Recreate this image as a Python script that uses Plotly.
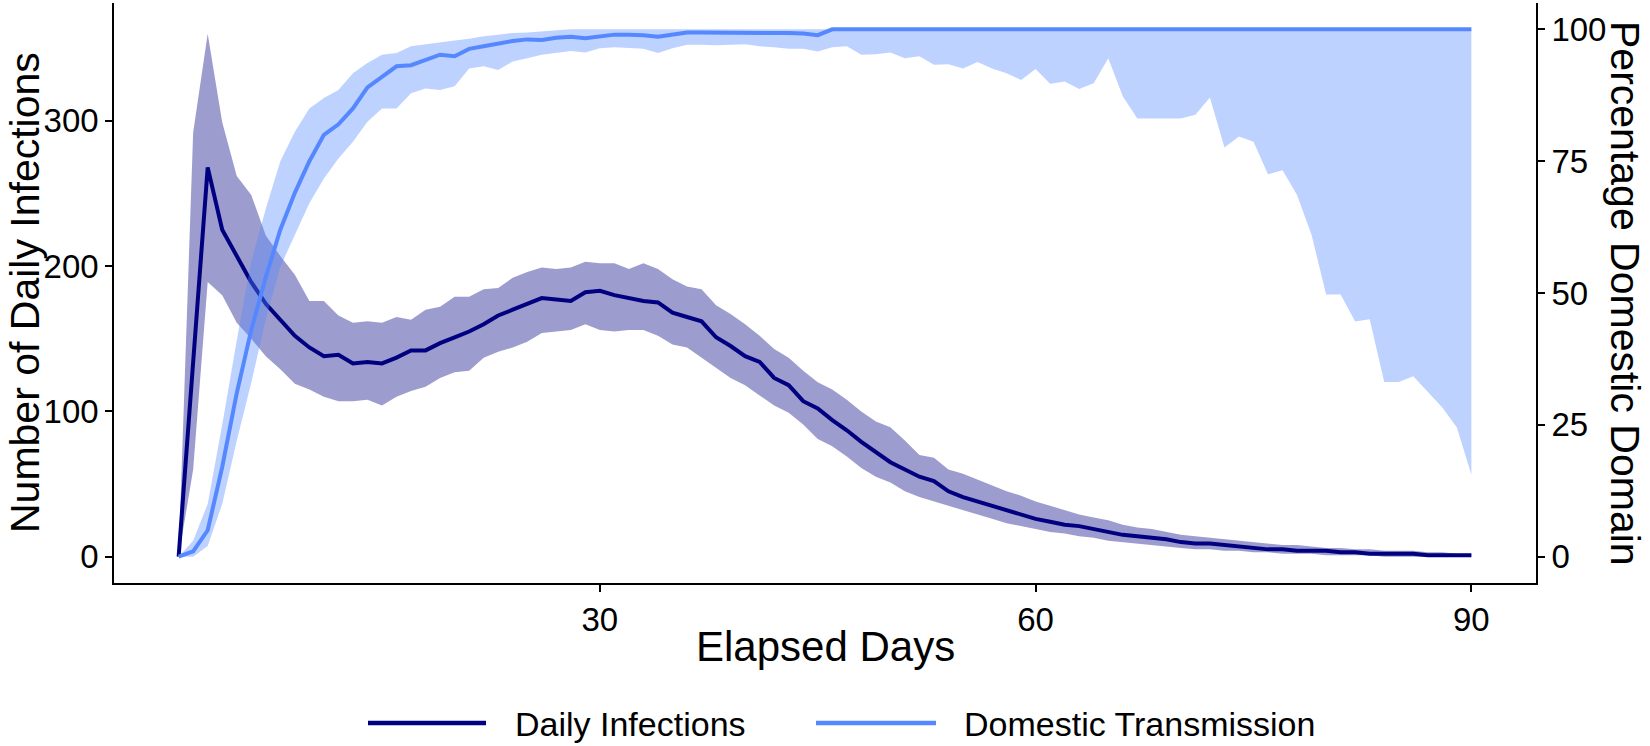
import plotly.graph_objects as go

days = list(range(1, 91))

inf_mean = [0, 130, 268, 225, 207, 189, 174, 163, 152, 144,
            138, 139, 133, 134, 133, 137, 142, 142, 147, 151,
            155, 160, 166, 170, 174, 178, 177, 176, 182, 183,
            180, 178, 176, 175, 168, 165, 162, 151, 145, 138,
            134, 123, 118, 107, 102, 94, 87, 79, 72, 65,
            60, 55, 52, 45, 41, 38, 35, 32, 29, 26,
            24, 22, 21, 19, 17, 15, 14, 13, 12, 10,
            9, 9, 8, 7, 6, 5, 5, 4, 4, 4,
            3, 3, 2, 2, 2, 2, 1, 1, 1, 1]
inf_upper = [0, 292, 360, 299, 262, 249, 221, 207, 194, 176,
             176, 166, 161, 162, 161, 165, 163, 170, 172, 179,
             179, 184, 185, 192, 196, 199, 198, 199, 203, 202,
             202, 198, 202, 198, 191, 186, 184, 173, 167, 160,
             152, 143, 137, 128, 120, 115, 108, 100, 93, 89,
             80, 70, 68, 60, 57, 53, 49, 45, 42, 38,
             35, 32, 29, 27, 25, 22, 20, 19, 17, 15,
             14, 13, 12, 11, 10, 9, 8, 8, 7, 6,
             6, 5, 5, 4, 4, 4, 3, 3, 2, 2]
inf_lower = [0, 60, 189, 180, 161, 150, 138, 129, 119, 115,
             110, 107, 107, 108, 104, 110, 114, 117, 123, 127,
             128, 137, 141, 144, 148, 154, 155, 156, 160, 156,
             155, 156, 156, 152, 146, 144, 137, 130, 123, 118,
             111, 104, 99, 91, 81, 76, 69, 61, 55, 51,
             45, 41, 38, 35, 32, 29, 26, 23, 21, 19,
             17, 16, 14, 13, 11, 10, 9, 8, 7, 6,
             5, 5, 4, 4, 3, 3, 2, 2, 2, 1,
             1, 1, 1, 0, 0, 0, 0, 0, 0, 0]

dom_mean = [0, 1, 5, 17, 31, 43, 53, 62, 69, 75,
            80, 82, 85, 89, 91, 93, 93.2, 94.2, 95.2, 94.9,
            96.3, 96.8, 97.3, 97.8, 98.1, 98.0, 98.4, 98.6, 98.3, 98.7,
            99.0, 99.0, 98.9, 98.6, 99.0, 99.4, 99.4, 99.4, 99.4, 99.4,
            99.4, 99.4, 99.3, 99.2, 98.9, 100, 100, 100, 100, 100,
            100, 100, 100, 100, 100, 100, 100, 100, 100, 100,
            100, 100, 100, 100, 100, 100, 100, 100, 100, 100,
            100, 100, 100, 100, 100, 100, 100, 100, 100, 100,
            100, 100, 100, 100, 100, 100, 100, 100, 100, 100]
dom_upper = [0, 3, 10, 25, 41, 56, 66, 75, 80.6, 85,
             87, 88.5, 91.7, 93.6, 95.2, 95.5, 96.8, 97.2, 97.6, 97.9,
             98.2, 98.7, 99.0, 99.3, 99.4, 99.6, 99.8, 100, 100, 100,
             100, 100, 100, 100, 100, 100, 100, 100, 100, 100,
             100, 100, 100, 100, 100, 100, 100, 100, 100, 100,
             100, 100, 100, 100, 100, 100, 100, 100, 100, 100,
             100, 100, 100, 100, 100, 100, 100, 100, 100, 100,
             100, 100, 100, 100, 100, 100, 100, 100, 100, 100,
             100, 100, 100, 100, 100, 100, 100, 100, 100, 100]
dom_lower = [0, 0, 2, 10, 22, 33, 45, 55, 61, 67,
             71.7, 75.5, 78.7, 82.5, 85, 85, 87.9, 88.8, 88.5, 89.2,
             92.6, 93, 92.3, 93.9, 94.5, 95.2, 95.6, 95.9, 95.6, 96.4,
             96.6, 96.4, 96.3, 95.5, 96.4, 97.1, 97.1, 97.0, 97.1, 97.2,
             96.8, 96.6, 96.3, 96.3, 95.8, 96.6, 96.8, 95.2, 95.3, 95.6,
             94.5, 94.9, 93.3, 93.4, 92.6, 93.8, 92.6, 91.7, 90.4, 92.5,
             89.7, 90.1, 88.7, 89.8, 94.5, 87.3, 83.1, 83.1, 83.1, 83.1,
             83.8, 87.1, 77.6, 79.7, 78.7, 72.5, 73.3, 68.6, 61, 49.7,
             49.7, 44.6, 45, 33.1, 33.1, 34.2, 31.2, 28.3, 24.5, 15.6]

x_ticks = [30, 60, 90]
y_left_ticks = [0, 100, 200, 300]
y_right_ticks = [0, 25, 50, 75, 100]
series_names = ["Daily Infections", "Domestic Transmission"]

NAVY = "#000080"
BLUE = "#5588FF"
FONT = "Liberation Sans, Arial, sans-serif"
M = 363.0

fig = go.Figure()

fig.add_trace(go.Scatter(
    x=days + days[::-1], y=inf_upper + inf_lower[::-1],
    fill="toself", fillcolor="rgba(0,0,128,0.39)", line=dict(width=0),
    mode="lines", hoverinfo="skip", showlegend=False))
fig.add_trace(go.Scatter(
    x=days + days[::-1], y=dom_upper + dom_lower[::-1], yaxis="y2",
    fill="toself", fillcolor="rgba(85,136,255,0.38)", line=dict(width=0),
    mode="lines", hoverinfo="skip", showlegend=False))
fig.add_trace(go.Scatter(
    x=days, y=inf_mean, mode="lines", name=series_names[0],
    line=dict(color=NAVY, width=4), showlegend=False))
fig.add_trace(go.Scatter(
    x=days, y=dom_mean, mode="lines", name=series_names[1], yaxis="y2",
    line=dict(color=BLUE, width=4), showlegend=False))

axis_common = dict(showline=True, linecolor="black", linewidth=1.6,
                   ticks="outside", ticklen=7, tickwidth=1.6, tickcolor="black",
                   showgrid=False, zeroline=False,
                   tickfont=dict(size=33, color="black", family=FONT))

fig.update_layout(
    width=1650, height=746,
    margin=dict(l=114, r=114, t=3, b=163),
    plot_bgcolor="white", paper_bgcolor="white",
    font=dict(family=FONT, color="black"),
    showlegend=False,
    xaxis=dict(range=[-3.45, 94.45], tickvals=x_ticks, **axis_common),
    yaxis=dict(range=[-0.05 * M, 1.05 * M], tickvals=y_left_ticks, **axis_common),
    yaxis2=dict(range=[-5, 105], tickvals=y_right_ticks, overlaying="y",
                side="right", **axis_common),
)

def px_x(p):
    return (p - 114) / 1422.0

def px_y(p):
    return (583 - p) / 580.0

annots = [
    dict(text="Number of Daily Infections", x=px_x(25), y=0.5, textangle=-90,
         font=dict(size=41)),
    dict(text="Percentage Domestic Domain", x=px_x(1625), y=0.5, textangle=90,
         font=dict(size=41)),
    dict(text="Elapsed Days", x=0.5, y=px_y(646), font=dict(size=42)),
    dict(text=series_names[0], x=px_x(513), y=px_y(724), xanchor="left",
         font=dict(size=34)),
    dict(text=series_names[1], x=px_x(962), y=px_y(724), xanchor="left",
         font=dict(size=34)),
]
for a in annots:
    a.setdefault("xanchor", "center")
    fig.add_annotation(xref="paper", yref="paper", showarrow=False,
                       yanchor="middle", **a)

for (x0, x1, col) in [(368, 486, NAVY), (816, 936, BLUE)]:
    fig.add_shape(type="line", xref="paper", yref="paper",
                  x0=px_x(x0), x1=px_x(x1), y0=px_y(723), y1=px_y(723),
                  line=dict(color=col, width=4.5))

fig.write_html("out.html")
